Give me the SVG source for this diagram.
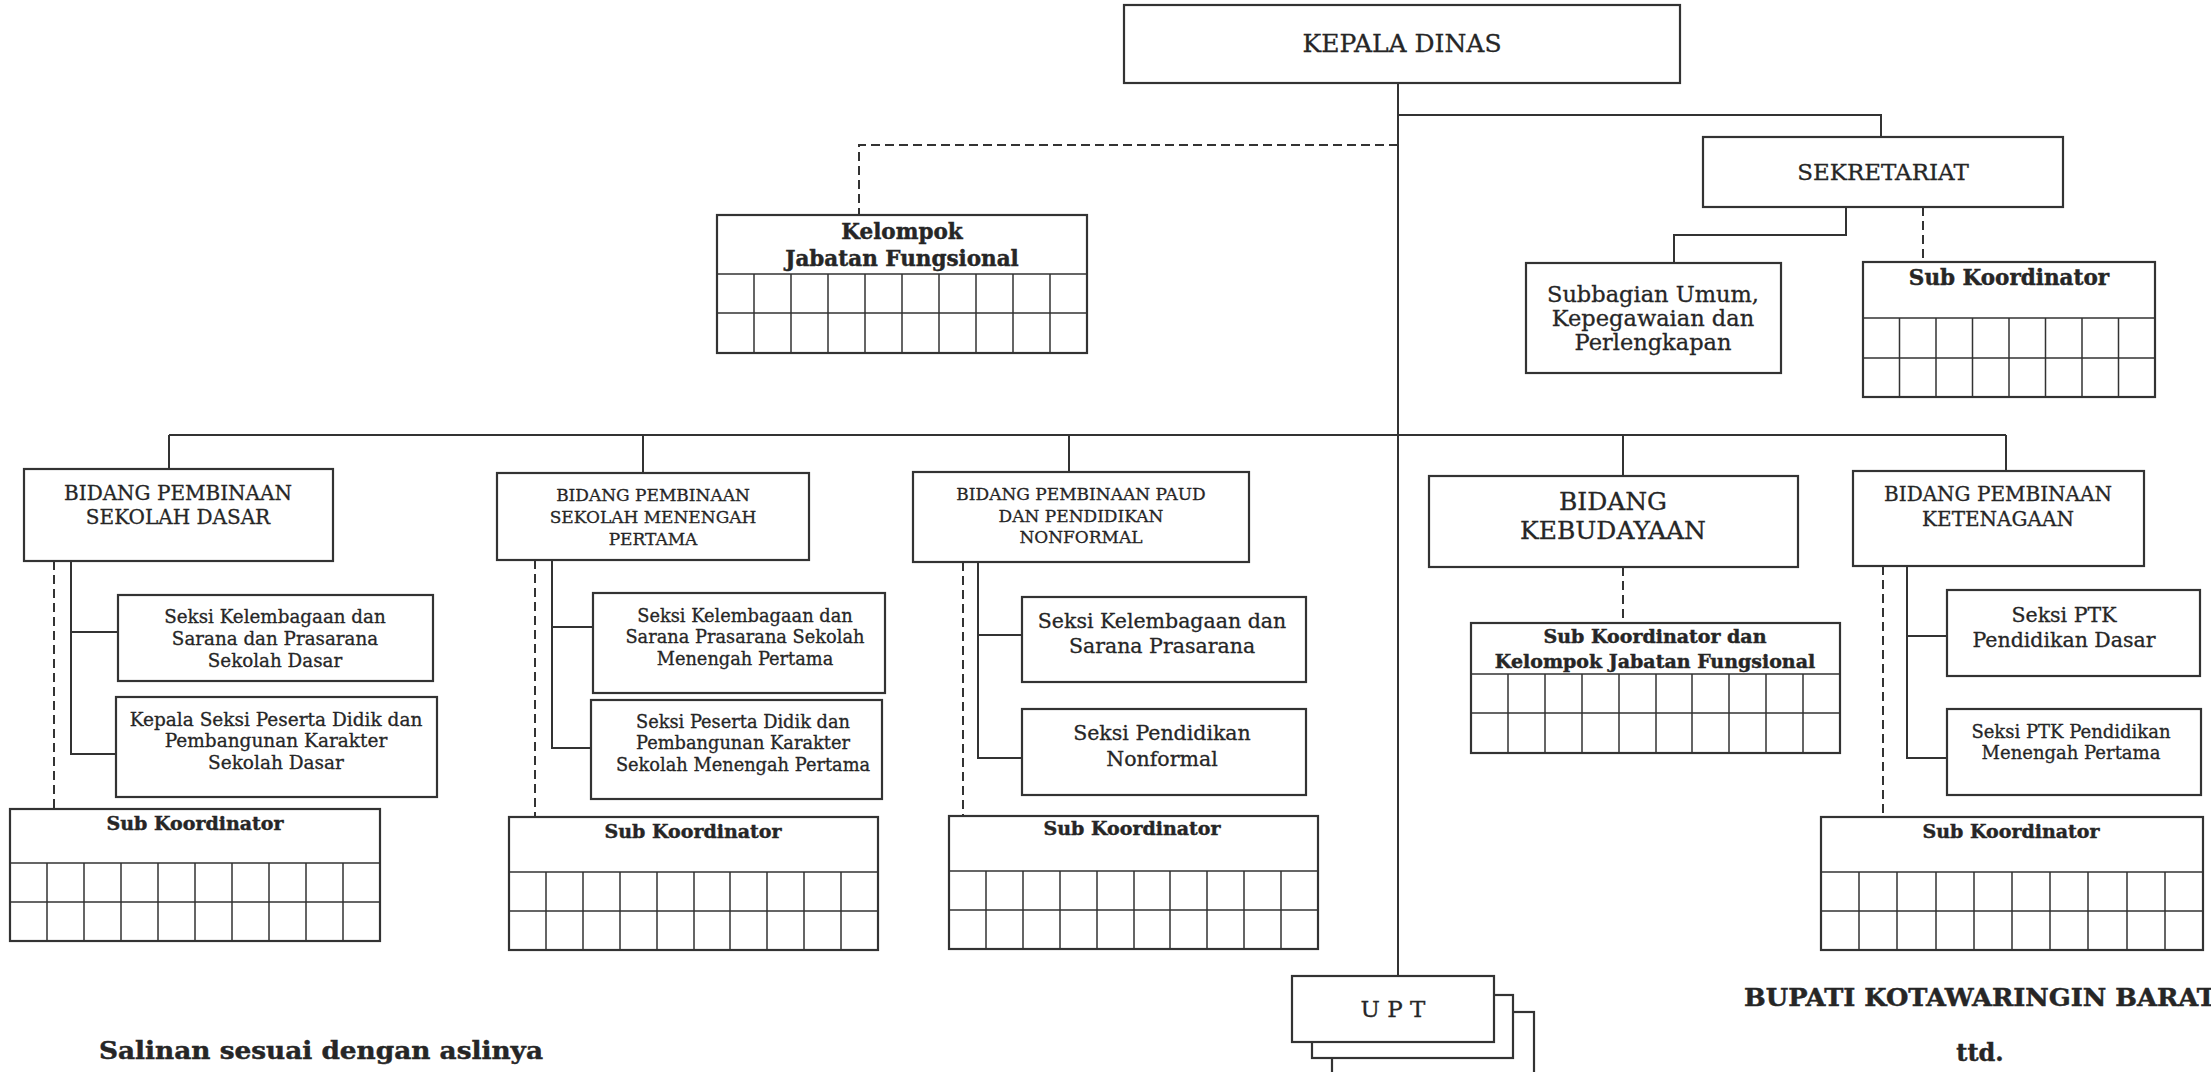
<svg xmlns="http://www.w3.org/2000/svg" width="2211" height="1072" viewBox="0 0 2211 1072">
<style>
.bx{fill:#fff;stroke:#333;stroke-width:2.2}
.gr{fill:none;stroke:#333;stroke-width:1.5}
.ln{fill:none;stroke:#333;stroke-width:2}
.ds{fill:none;stroke:#333;stroke-width:2;stroke-dasharray:9 5}
text{font-family:"DejaVu Serif","Liberation Serif",serif;fill:#262626;stroke:#262626;stroke-width:0.3;text-anchor:middle}
.b{font-weight:bold;stroke-width:0.45}
</style>
<rect width="2211" height="1072" fill="#fff"/>
<g id="connectors">
<path class="ln" d="M1398 83V976"/>
<path class="ln" d="M1398 115H1881V137"/>
<path class="ds" d="M1398 145H859V215"/>
<path class="ln" d="M1846 207V235H1674V263"/>
<path class="ds" d="M1923 207V262"/>
<path class="ln" d="M169 435H2006"/>
<path class="ln" d="M169 435V469M643 435V473M1069 435V472M1623 435V476M2006 435V471"/>
<path class="ds" d="M54 561V809"/>
<path class="ln" d="M71 561V754H116M71 632H118"/>
<path class="ds" d="M535 560V817"/>
<path class="ln" d="M552 560V748H591M552 627H593"/>
<path class="ds" d="M963 562V816"/>
<path class="ln" d="M978 562V758H1022M978 635H1022"/>
<path class="ds" d="M1623 567V623"/>
<path class="ds" d="M1883 566V817"/>
<path class="ln" d="M1907 566V758H1947M1907 636H1947"/>
</g>
<g id="kepala-dinas">
<rect class="bx" x="1124" y="5" width="556" height="78"/>
<text x="1402" y="52" font-size="25">KEPALA DINAS</text>
</g>
<g id="sekretariat">
<rect class="bx" x="1703" y="137" width="360" height="70"/>
<text x="1883" y="180" font-size="23">SEKRETARIAT</text>
</g>
<g id="kelompok-jabfung">
<rect class="bx" x="717" y="215" width="370" height="138"/>
<path class="gr" d="M717 274H1087M717 313H1087M754 274V353M791 274V353M828 274V353M865 274V353M902 274V353M939 274V353M976 274V353M1013 274V353M1050 274V353"/>
<text class="b" x="902" y="239" font-size="21.5">Kelompok</text>
<text class="b" x="902" y="266" font-size="21.5">Jabatan Fungsional</text>
</g>
<g id="subbagian-umum">
<rect class="bx" x="1526" y="263" width="255" height="110"/>
<text x="1653" y="302" font-size="22.5">Subbagian Umum,</text>
<text x="1653" y="326" font-size="22.5">Kepegawaian dan</text>
<text x="1653" y="350" font-size="22.5">Perlengkapan</text>
</g>
<g id="subkoor-sekretariat">
<rect class="bx" x="1863" y="262" width="292" height="135"/>
<path class="gr" d="M1863 318H2155M1863 358H2155M1899.5 318V397M1936 318V397M1972.5 318V397M2009 318V397M2045.5 318V397M2082 318V397M2118.5 318V397"/>
<text class="b" x="2009" y="285" font-size="21.5">Sub Koordinator</text>
</g>
<g id="bidang-sd">
<rect class="bx" x="24" y="469" width="309" height="92"/>
<text x="178" y="500" font-size="20">BIDANG PEMBINAAN</text>
<text x="178" y="524" font-size="20">SEKOLAH DASAR</text>
</g>
<g id="seksi-kelembagaan-sd">
<rect class="bx" x="118" y="595" width="315" height="86"/>
<text x="275" y="623" font-size="18.3">Seksi Kelembagaan dan</text>
<text x="275" y="645" font-size="18.3">Sarana dan Prasarana</text>
<text x="275" y="667" font-size="18.3">Sekolah Dasar</text>
</g>
<g id="seksi-peserta-didik-sd">
<rect class="bx" x="116" y="697" width="321" height="100"/>
<text x="276" y="726" font-size="18.5">Kepala Seksi Peserta Didik dan</text>
<text x="276" y="747" font-size="18.5">Pembangunan Karakter</text>
<text x="276" y="769" font-size="18.5">Sekolah Dasar</text>
</g>
<g id="subkoor-sd">
<rect class="bx" x="10" y="809" width="370" height="132"/>
<path class="gr" d="M10 863H380M10 902H380M47 863V941M84 863V941M121 863V941M158 863V941M195 863V941M232 863V941M269 863V941M306 863V941M343 863V941"/>
<text class="b" x="195" y="830" font-size="19">Sub Koordinator</text>
</g>
<g id="bidang-smp">
<rect class="bx" x="497" y="473" width="312" height="87"/>
<text x="653" y="501" font-size="17">BIDANG PEMBINAAN</text>
<text x="653" y="523" font-size="17">SEKOLAH MENENGAH</text>
<text x="653" y="545" font-size="17">PERTAMA</text>
</g>
<g id="seksi-kelembagaan-smp">
<rect class="bx" x="593" y="593" width="292" height="100"/>
<text x="745" y="622" font-size="17.8">Seksi Kelembagaan dan</text>
<text x="745" y="643" font-size="17.8">Sarana Prasarana Sekolah</text>
<text x="745" y="665" font-size="17.8">Menengah Pertama</text>
</g>
<g id="seksi-peserta-didik-smp">
<rect class="bx" x="591" y="700" width="291" height="99"/>
<text x="743" y="728" font-size="17.8">Seksi Peserta Didik dan</text>
<text x="743" y="749" font-size="17.8">Pembangunan Karakter</text>
<text x="743" y="771" font-size="17.8">Sekolah Menengah Pertama</text>
</g>
<g id="subkoor-smp">
<rect class="bx" x="509" y="817" width="369" height="133"/>
<path class="gr" d="M509 872H878M509 911H878M546 872V950M583 872V950M620 872V950M657 872V950M694 872V950M730 872V950M767 872V950M804 872V950M841 872V950"/>
<text class="b" x="693" y="838" font-size="19">Sub Koordinator</text>
</g>
<g id="bidang-paud">
<rect class="bx" x="913" y="472" width="336" height="90"/>
<text x="1081" y="500" font-size="17">BIDANG PEMBINAAN PAUD</text>
<text x="1081" y="522" font-size="17">DAN PENDIDIKAN</text>
<text x="1081" y="543" font-size="17">NONFORMAL</text>
</g>
<g id="seksi-kelembagaan-paud">
<rect class="bx" x="1022" y="597" width="284" height="85"/>
<text x="1162" y="628" font-size="20.5">Seksi Kelembagaan dan</text>
<text x="1162" y="653" font-size="20.5">Sarana Prasarana</text>
</g>
<g id="seksi-pendidikan-nonformal">
<rect class="bx" x="1022" y="709" width="284" height="86"/>
<text x="1162" y="740" font-size="20.5">Seksi Pendidikan</text>
<text x="1162" y="766" font-size="20.5">Nonformal</text>
</g>
<g id="subkoor-paud">
<rect class="bx" x="949" y="816" width="369" height="133"/>
<path class="gr" d="M949 871H1318M949 910H1318M986 871V949M1023 871V949M1060 871V949M1097 871V949M1134 871V949M1170 871V949M1207 871V949M1244 871V949M1281 871V949"/>
<text class="b" x="1132" y="835" font-size="19">Sub Koordinator</text>
</g>
<g id="bidang-kebudayaan">
<rect class="bx" x="1429" y="476" width="369" height="91"/>
<text x="1613" y="510" font-size="25">BIDANG</text>
<text x="1613" y="539" font-size="25">KEBUDAYAAN</text>
</g>
<g id="subkoor-kebudayaan">
<rect class="bx" x="1471" y="623" width="369" height="130"/>
<path class="gr" d="M1471 674H1840M1471 713H1840M1508 674V753M1545 674V753M1582 674V753M1619 674V753M1656 674V753M1692 674V753M1729 674V753M1766 674V753M1803 674V753"/>
<text class="b" x="1655" y="643" font-size="19">Sub Koordinator dan</text>
<text class="b" x="1655" y="668" font-size="19">Kelompok Jabatan Fungsional</text>
</g>
<g id="bidang-ketenagaan">
<rect class="bx" x="1853" y="471" width="291" height="95"/>
<text x="1998" y="501" font-size="20">BIDANG PEMBINAAN</text>
<text x="1998" y="526" font-size="20">KETENAGAAN</text>
</g>
<g id="seksi-ptk-dasar">
<rect class="bx" x="1947" y="590" width="253" height="86"/>
<text x="2064" y="622" font-size="20.5">Seksi PTK</text>
<text x="2064" y="647" font-size="20.5">Pendidikan Dasar</text>
</g>
<g id="seksi-ptk-smp">
<rect class="bx" x="1947" y="709" width="254" height="86"/>
<text x="2071" y="738" font-size="18">Seksi PTK Pendidikan</text>
<text x="2071" y="759" font-size="18">Menengah Pertama</text>
</g>
<g id="subkoor-ketenagaan">
<rect class="bx" x="1821" y="817" width="382" height="133"/>
<path class="gr" d="M1821 872H2203M1821 911H2203M1859 872V950M1897 872V950M1936 872V950M1974 872V950M2012 872V950M2050 872V950M2088 872V950M2127 872V950M2165 872V950"/>
<text class="b" x="2011" y="838" font-size="19">Sub Koordinator</text>
</g>
<g id="upt">
<rect class="bx" x="1332" y="1012" width="202" height="70"/>
<rect class="bx" x="1312" y="995" width="201" height="63"/>
<rect class="bx" x="1292" y="976" width="202" height="66"/>
<text x="1393" y="1017" font-size="23">U P T</text>
</g>
<g id="footer">
<text class="b" x="321" y="1059" font-size="24" textLength="444" lengthAdjust="spacingAndGlyphs">Salinan sesuai dengan aslinya</text>
<text class="b" x="1980" y="1006" font-size="24" textLength="472" lengthAdjust="spacingAndGlyphs">BUPATI KOTAWARINGIN BARAT</text>
<text class="b" x="1980" y="1061" font-size="24">ttd.</text>
</g>
</svg>
